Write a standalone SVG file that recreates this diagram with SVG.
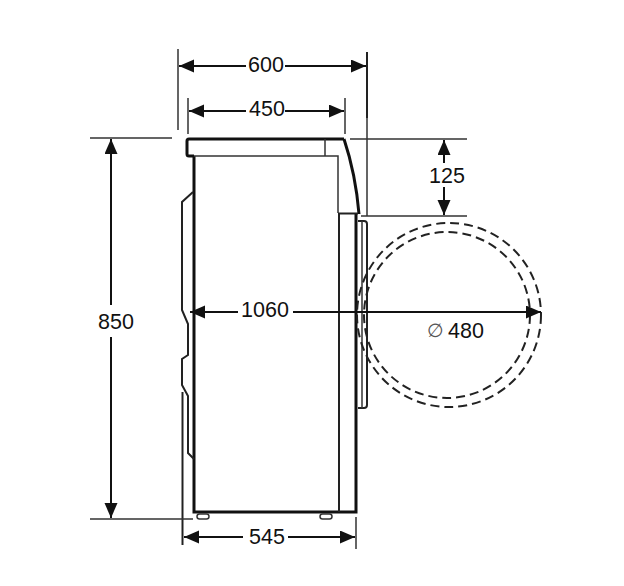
<svg xmlns="http://www.w3.org/2000/svg" width="624" height="586" viewBox="0 0 624 586">
<style>
.bg{fill:#fff}
.t{font-family:"Liberation Sans",Arial,sans-serif;font-size:21.500px;fill:#111;text-anchor:middle}
.k{fill:none;stroke:#111;stroke-width:3}
.m{fill:none;stroke:#222;stroke-width:2}
.l{fill:none;stroke:#333;stroke-width:1.500}
.d{fill:none;stroke:#222;stroke-width:2;stroke-dasharray:9 5}
.a{stroke:#111;stroke-width:2;fill:none;marker-end:url(#ah)}
</style>
<defs>
<marker id="ah" markerUnits="userSpaceOnUse" markerWidth="16" markerHeight="14" refX="15" refY="6.500" orient="auto"><path d="M0 0L15 6.500L0 13Z" fill="#111"/></marker>
</defs>
<rect class="bg" width="624" height="586"/>
<g id="machine">
<path class="k" d="M344 139H189Q187 139 187 141V154Q187 156 189 156H194M194 156V512H356V213"/>
<path class="k" d="M344 139C351 160 357 190 359 214"/>
<path class="l" d="M194 156H338V213M325 139V156"/>
<path class="m" d="M338 213.500H358M339 213V512"/>
<path class="m" d="M193 192L182 202V310L188 324V355L182 359V385L188 396V453L194 459"/>
<path class="m" d="M182.500 392V545"/>
<path class="m" d="M358 221H364Q367 221 367 224V405Q367 408 364 408H358"/>
<path class="l" d="M362 221V408"/>
</g>
<g id="feet">
<rect class="l" x="197" y="514" width="12" height="5" rx="2.500"/>
<rect class="l" x="320" y="514" width="12" height="5" rx="2.500"/>
</g>
<g id="door-swing">
<circle class="d" cx="449" cy="315" r="92"/>
<circle class="d" cx="447" cy="315" r="83"/>
</g>
<g id="connectors">
<path class="l" d="M178 49V130M188 98V134M345 98V134"/>
<path class="m" d="M367 52V118"/>
<path class="l" d="M367 118V216M350 139H467M361 216H467M90 138H172M90 519H193M356 517V549"/>
<path class="a" d="M246 66H179"/>
<path class="a" d="M285 66H366"/>
<path class="a" d="M246 111H189"/>
<path class="a" d="M285 111H344"/>
<path class="a" d="M444 163V140"/>
<path class="a" d="M444 187V215"/>
<path class="a" d="M111 305V139"/>
<path class="a" d="M111 337V518"/>
<path class="a" d="M243 537H184"/>
<path class="a" d="M288 537H355"/>
<path class="a" d="M238 312H190"/>
<path class="a" d="M293 312H541"/>
</g>
<g id="labels">
<text class="t" x="266" y="72">600</text>
<text class="t" x="267" y="116">450</text>
<text class="t" x="447" y="183">125</text>
<text class="t" x="116" y="329">850</text>
<text class="t" x="265" y="317">1060</text>
<text class="t" x="267" y="544">545</text>
<text class="t" x="466" y="338">480</text>
<text class="t" x="435" y="337" style="fill:#555;font-size:19px">∅</text>
</g>
</svg>
